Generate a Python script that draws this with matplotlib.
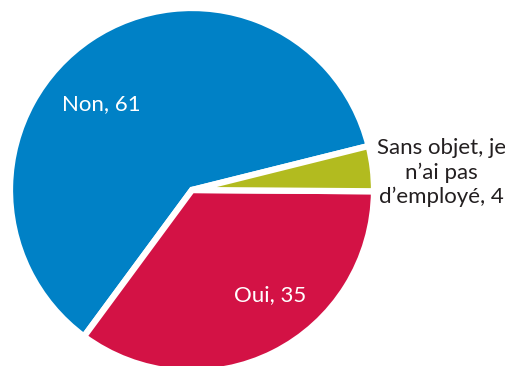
import matplotlib.pyplot as plt

# ---------------------------------------------------------------------------
# Data
# ---------------------------------------------------------------------------

CATEGORIES = ["Non", "Oui", "Sans objet, je\nn’ai pas\nd’employé"]
VALUES     = [61, 35, 4]
COLORS     = ["#0081C6", "#D31245", "#B2BB1F"]
TEXT_COLOR = ["white", "white", "#231F20"]

# label anchor points (pie radius = 1)
LABEL_POS  = [(-0.50, 0.47), (0.43, -0.58), (1.37, 0.095)]

plt.rcParams["font.family"] = ["Lato", "DejaVu Sans"]

# ---------------------------------------------------------------------------
# Plot
# ---------------------------------------------------------------------------

fig = plt.figure(figsize=(5.06, 3.66), dpi=100)
ax = fig.add_axes([0, 0, 1, 1])

ax.pie(
    VALUES,
    colors=COLORS,
    startangle=14,
    counterclock=True,
    radius=1.0,
    wedgeprops=dict(edgecolor="white", linewidth=4.5, joinstyle="miter"),
)

for cat, val, (x, y), tc in zip(CATEGORIES, VALUES, LABEL_POS, TEXT_COLOR):
    ax.text(x, y, f"{cat}, {val}", color=tc, fontsize=16,
            ha="center", va="center", linespacing=1.25)

# pixel scale: radius ~182 px, centre at (192, 190) from top-left
scale = 182.0
ax.set_xlim(-192 / scale, (506 - 192) / scale)
ax.set_ylim(-(366 - 190) / scale, 190 / scale)
ax.set_aspect("auto")
ax.axis("off")

fig.savefig("out.png", dpi=100)
